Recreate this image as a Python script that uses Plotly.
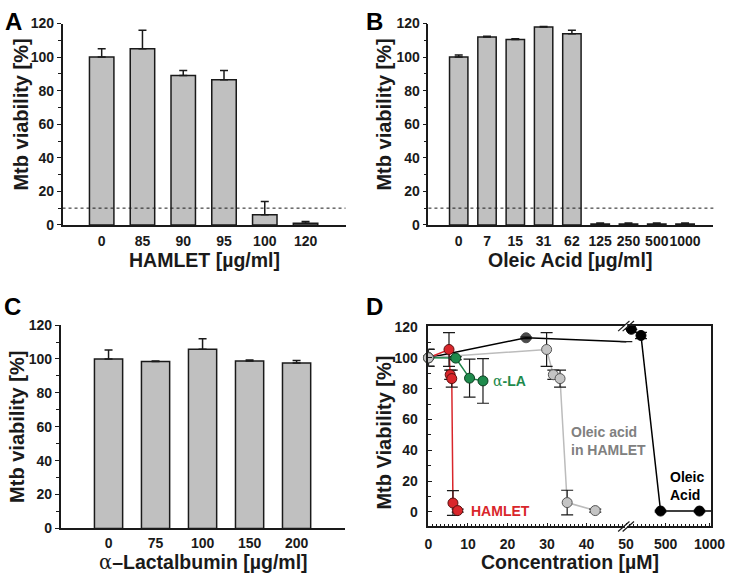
import plotly.graph_objects as go

W, H = 742, 586
FONT = "Liberation Sans, Arial, sans-serif"
INK = "#1a1a1a"

# ---------------- data ----------------
# Panel A
hamlet_doses = ["0", "85", "90", "95", "100", "120"]
hamlet_viab = [100, 105, 89, 86.5, 6, 1]
hamlet_err = [5, 11, 3, 5.5, 8, 1]

# Panel B
oleic_doses = ["0", "7", "15", "31", "62", "125", "250", "500", "1000"]
oleic_viab = [100, 112, 110.5, 118, 114, 0.5, 0.5, 0.5, 0.5]
oleic_err = [1.2, 0.4, 0.4, 0.3, 2, 0.6, 0.6, 0.6, 0.6]

# Panel C
lact_doses = ["0", "75", "100", "150", "200"]
lact_viab = [100, 98.5, 105.7, 98.8, 97.7]
lact_err = [5.3, 0.3, 6.2, 0.6, 1.4]

THRESHOLD = 10

# Panel D (concentration in µM)
d_hamlet_um = [0, 5.2, 5.5, 5.9, 6.2, 7.4]
d_hamlet_viab = [100, 105.4, 89, 86.5, 5.7, 0.8]
d_hamlet_err = [5.5, 11, 3, 5.5, 8, 1]

d_la_um = [0, 6.9, 10.4, 13.8]
d_la_viab = [100, 99.8, 86.8, 85]
d_la_err = [5.5, 1, 12.3, 14.5]

d_oaham_um = [0, 29.9, 31.6, 33.3, 35.1, 42.2]
d_oaham_viab = [100, 105.4, 89, 86.5, 6, 0.8]
d_oaham_err = [5.5, 11, 3, 5.5, 8, 1]

d_oa_um = [0, 24.7, 53, 110, 220, 443, 886, 1773, 3546]
d_oa_viab = [100, 113, 110.5, 118.5, 114.5, 0.5, 0.5, 0.5, 0.5]
d_oa_err = [0, 0.5, 0, 0, 2, 0.5, 0.5, 0.5, 0.5]

d_tick_vals = [0, 10, 20, 30, 40, 50, 500, 1000]
d_tick_text = ["0", "10", "20", "30", "40", "50", "500", "1000"]
AXIS_BREAK = 50
BREAK_SCALE = 45.0   # µM per axis unit beyond the break
D_XMAX = 71.6


def to_axis(c):
    return c if c <= AXIS_BREAK else AXIS_BREAK + (c - AXIS_BREAK) / BREAK_SCALE


def errs(e):
    return [v if v else None for v in e]


def dom_x(a, b):
    return [a / W, b / W]


def dom_y(top, bottom):
    return [1 - bottom / H, 1 - top / H]


fig = go.Figure()

BAR_FILL = "#c0c0c0"


def add_bars(x, y, err, xa, ya, width):
    fig.add_trace(go.Bar(
        x=x, y=y, xaxis=xa, yaxis=ya, width=width,
        marker=dict(color=BAR_FILL, line=dict(color=INK, width=1.5)),
        error_y=dict(type="data", array=err, arrayminus=[0] * len(err),
                     symmetric=False, color=INK, thickness=1.5, width=4),
        showlegend=False, hoverinfo="x+y"))


add_bars(hamlet_doses, hamlet_viab, hamlet_err, "x", "y", 0.6)
add_bars(oleic_doses, oleic_viab, oleic_err, "x2", "y2", 0.65)
add_bars(lact_doses, lact_viab, lact_err, "x3", "y3", 0.6)

# ---------- Panel D ----------
RED, GREEN, GREY, BLACK = "#d9262b", "#1e8a4c", "#c4c4c4", "#000000"
RED_L, GREEN_L, GREY_L = "#d9262b", "#1e8449", "#bcbcbc"

oa_low = [i for i, c in enumerate(d_oa_um) if c <= AXIS_BREAK + 5]
oa_high = [i for i, c in enumerate(d_oa_um) if c > AXIS_BREAK + 5]


def line_tr(xs, ys, color, width=1.5):
    fig.add_trace(go.Scatter(x=[to_axis(v) for v in xs], y=ys, mode="lines",
                             line=dict(color=color, width=width),
                             xaxis="x4", yaxis="y4", showlegend=False,
                             hoverinfo="skip"))


def mark_tr(xs, ys, es, fill, edge, sizes=10, clip=False):
    fig.add_trace(go.Scatter(
        x=[to_axis(v) for v in xs], y=ys, mode="markers",
        marker=dict(color=fill, size=sizes, line=dict(color=edge, width=1)),
        error_y=dict(type="data", array=errs(es), color=INK, thickness=1.2, width=6),
        xaxis="x4", yaxis="y4", showlegend=False, cliponaxis=clip))


# lines first
line_tr([d_oa_um[i] for i in oa_low], [d_oa_viab[i] for i in oa_low], BLACK)
line_tr([d_oa_um[i] for i in oa_high], [d_oa_viab[i] for i in oa_high], BLACK)
line_tr(d_oaham_um, d_oaham_viab, GREY_L)
line_tr(d_hamlet_um, d_hamlet_viab, RED_L)
line_tr(d_la_um, d_la_viab, GREEN_L)

# markers
mark_tr([d_oa_um[i] for i in oa_low], [d_oa_viab[i] for i in oa_low],
        [d_oa_err[i] for i in oa_low], BLACK, BLACK,
        sizes=[10 if d_oa_um[i] < AXIS_BREAK else 0 for i in oa_low], clip=True)
mark_tr([d_oa_um[i] for i in oa_high], [d_oa_viab[i] for i in oa_high],
        [d_oa_err[i] for i in oa_high], BLACK, BLACK, clip=True)
mark_tr(d_hamlet_um, d_hamlet_viab, d_hamlet_err, RED, "#5a1010")
mark_tr(d_la_um, d_la_viab, d_la_err, GREEN, "#0d3d20")
mark_tr(d_oaham_um, d_oaham_viab, d_oaham_err, GREY, "#555555")

tickfont = dict(family=FONT, size=14, color=INK, weight="bold")


def bar_axes(n, xr, xd, yd, tl=4):
    sfx = "" if n == 1 else str(n)
    fig.update_layout(**{
        "xaxis" + sfx: dict(domain=xd, type="category", range=xr, showline=True,
                            linecolor=INK, linewidth=1.5, ticks="outside", ticklen=tl,
                            tickcolor="rgba(0,0,0,0)", tickfont=tickfont,
                            tickangle=0,
                            showgrid=False, zeroline=False, anchor="y" + sfx,
                            fixedrange=True),
        "yaxis" + sfx: dict(domain=yd, range=[0, 120], tickmode="array",
                            tickvals=list(range(0, 121, 20)), ticks="outside",
                            ticklen=4, tickwidth=1.2, tickcolor=INK,
                            minor=dict(tickmode="linear", tick0=0, dtick=10,
                                       ticks="outside", ticklen=3, tickcolor=INK,
                                       tickwidth=1.2),
                            showline=True, linecolor=INK, linewidth=1.5,
                            tickfont=tickfont, showgrid=False, zeroline=False,
                            anchor="x" + sfx, fixedrange=True),
    })


bar_axes(1, [-0.96, 5.98], dom_x(60, 350), dom_y(16, 223), tl=3)
bar_axes(2, [-1.07, 9.0], dom_x(435, 727), dom_y(16, 223), tl=3)
bar_axes(3, [-1.02, 5.02], dom_x(58, 349), dom_y(326, 535), tl=1)

fig.update_layout(
    xaxis4=dict(domain=dom_x(435, 725), range=[0, D_XMAX], tickmode="array",
                tickvals=[to_axis(v) for v in d_tick_vals], ticktext=d_tick_text,
                ticks="inside", ticklen=4, tickcolor=INK, tickwidth=1,
                minor=dict(tickmode="linear", tick0=0, dtick=1, ticks="inside",
                           ticklen=3, tickcolor=INK, tickwidth=1),
                showline=True, mirror=True, linecolor=INK, linewidth=1.5,
                tickfont=tickfont, ticklabelstandoff=4, tickangle=0,
                showgrid=False, zeroline=False, anchor="y4", fixedrange=True),
    yaxis4=dict(domain=dom_y(327, 533), range=[-9.5, 120.6], tickmode="array",
                tickvals=list(range(0, 121, 20)), ticks="inside", ticklen=4,
                tickcolor=INK, tickwidth=1.2,
                minor=dict(tickmode="linear", tick0=0, dtick=10, ticks="inside",
                           ticklen=3, tickcolor=INK, tickwidth=1.2),
                showline=True, mirror=True, linecolor=INK, linewidth=1.5,
                tickfont=tickfont, ticklabelstandoff=6, showgrid=False,
                zeroline=False, anchor="x4", fixedrange=True),
)

shapes = []
# threshold dotted lines in A and B
for xr, yr in (("x domain", "y"), ("x2 domain", "y2")):
    shapes.append(dict(type="line", xref=xr, yref=yr, x0=0, x1=1,
                       y0=THRESHOLD, y1=THRESHOLD,
                       line=dict(color=INK, width=1, dash="dot")))

# axis break marks in D
bf = to_axis(AXIS_BREAK) / D_XMAX
for yy in (0, 1):
    shapes.append(dict(type="line", xref="x4 domain", yref="y4 domain",
                       x0=bf - 0.004, x1=bf + 0.004, y0=yy, y1=yy,
                       line=dict(color="white", width=4)))
    for off in (-0.008, 0.008):
        shapes.append(dict(type="line", xref="x4 domain", yref="y4 domain",
                           x0=bf + off - 0.02, x1=bf + off + 0.02,
                           y0=yy - 0.025, y1=yy + 0.025,
                           line=dict(color=INK, width=1.2)))
fig.update_layout(shapes=shapes)

ann = []


def txt(x, y, s, size=20, color=INK, angle=0, xanchor="center", align="center"):
    ann.append(dict(x=x / W, y=1 - y / H, xref="paper", yref="paper", text=s,
                    showarrow=False, textangle=angle, xanchor=xanchor,
                    yanchor="middle", align=align,
                    font=dict(family=FONT, size=size, color=color, weight="bold")))


ALPHA = "<span style=\"font-family:'DejaVu Serif';font-weight:normal\">α</span>"

txt(205, 259, "HAMLET [µg/ml]", size=19.5)
txt(580, 259, "Oleic Acid [µg/ml]", size=19.5)
txt(204, 570, ALPHA + "–Lactalbumin [µg/ml]", size=19.5)
txt(580, 570, "Concentration [µM]", size=19.5)
txt(17, 110, "Mtb viability [%]", angle=-90)
txt(389, 110, "Mtb viability [%]", angle=-90)
txt(14, 431, "Mtb viability [%]", angle=-90)
txt(390, 437, "Mtb Viability [%]", angle=-90)

txt(10, 14, "A", size=24, color="#000")
txt(380, 14, "B", size=24, color="#000")
txt(9, 307, "C", size=24, color="#000")
txt(380, 307, "D", size=24, color="#000")

txt(499, 383, ALPHA + "-LA", size=14, color=GREEN, xanchor="left")
txt(477, 517, "HAMLET", size=14, color=RED, xanchor="left")
txt(579, 445, "Oleic acid<br>in HAMLET", size=14, color="#808080",
    xanchor="left", align="left")
txt(680, 491, "Oleic<br>Acid", size=14, color="#000", xanchor="left", align="left")

fig.update_layout(annotations=ann, width=W, height=H,
                  margin=dict(l=0, r=0, t=0, b=0),
                  paper_bgcolor="white", plot_bgcolor="white",
                  showlegend=False)

fig.write_html("out.html", config={"displayModeBar": False},
               post_script="document.body.style.margin='0px';"
                           "document.body.style.overflow='hidden';")
